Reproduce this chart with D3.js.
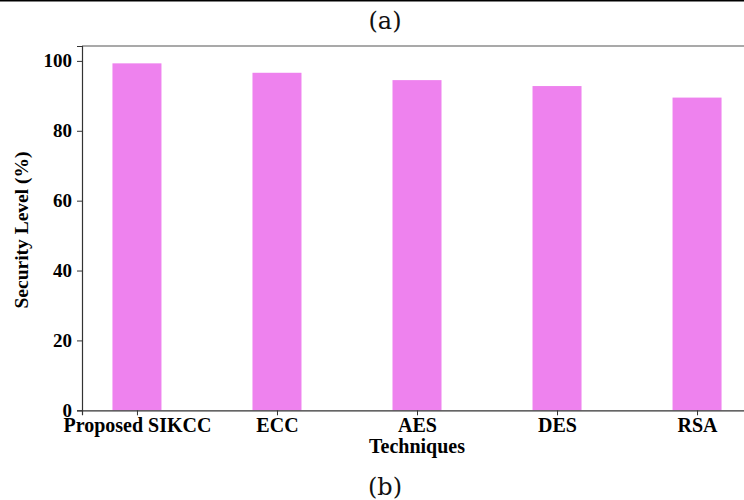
<!DOCTYPE html>
<html>
<head>
<meta charset="utf-8">
<script src="https://cdn.jsdelivr.net/npm/d3@7/dist/d3.min.js"></script>
<style>
  html, body { margin: 0; padding: 0; background: #fff; }
  svg { display: block; }
</style>
</head>
<body>
<svg id="chart" width="744" height="500"></svg>
<script>
// Security level of each encryption technique
const techniques = ["Proposed SIKCC", "ECC", "AES", "DES", "RSA"];
const securityLevel = [99.3, 96.6, 94.5, 92.8, 89.5];
const yTicks = [0, 20, 40, 60, 80, 100];

const svg = d3.select("#chart");
const W = 744, H = 500;
const barWidth = 0.35;
const n = techniques.length;
const margin = 0.05 * (n - 1 + barWidth);

const x = d3.scaleLinear()
  .domain([-barWidth / 2 - margin, n - 1 + barWidth / 2 + margin])
  .range([82, 752]);
const yMax = d3.max(securityLevel) * 1.05;
const y = d3.scaleLinear().domain([0, yMax]).range([410.3, 46]);

const serif = "'Liberation Serif', 'Times New Roman', serif";

// panel separator line at the top
svg.append("line")
  .attr("x1", 0).attr("x2", W).attr("y1", 0.75).attr("y2", 0.75)
  .attr("stroke", "#000").attr("stroke-width", 1.5);

// panel captions
svg.append("text")
  .attr("x", 385).attr("y", 29)
  .attr("text-anchor", "middle")
  .attr("font-family", "'DejaVu Serif', serif")
  .attr("font-size", 24)
  .attr("fill", "#111")
  .text("(a)");
svg.append("text")
  .attr("x", 385).attr("y", 495)
  .attr("text-anchor", "middle")
  .attr("font-family", "'DejaVu Serif', serif")
  .attr("font-size", 24)
  .attr("fill", "#111")
  .text("(b)");

// bars
svg.append("g")
  .selectAll("rect")
  .data(securityLevel)
  .join("rect")
  .attr("x", (d, i) => x(i - barWidth / 2))
  .attr("width", (d, i) => x(i + barWidth / 2) - x(i - barWidth / 2))
  .attr("y", d => y(d))
  .attr("height", d => y(0) - y(d))
  .attr("fill", "violet");

// frame (top spine; left and bottom drawn by the axes)
svg.append("line")
  .attr("x1", x.range()[0]).attr("x2", W)
  .attr("y1", y(yMax)).attr("y2", y(yMax))
  .attr("stroke", "#555").attr("stroke-width", 1.2);

// y axis
const yAxis = svg.append("g")
  .attr("transform", `translate(${x.range()[0]},0)`)
  .call(d3.axisLeft(y).tickValues(yTicks).tickSize(5).tickPadding(5).tickFormat(d3.format("d")));
yAxis.select(".domain").attr("stroke", "#333").attr("stroke-width", 1.2);
yAxis.selectAll(".tick line").attr("stroke", "#333");
yAxis.selectAll(".tick text")
  .attr("font-family", serif).attr("font-weight", "bold")
  .attr("font-size", 19).attr("fill", "#000");

// x axis
const xAxis = svg.append("g")
  .attr("transform", `translate(0,${y(0)})`)
  .call(d3.axisBottom(x).tickValues(d3.range(n)).tickSize(5).tickPadding(3)
    .tickFormat(i => techniques[i]));
xAxis.select(".domain").attr("stroke", "#333").attr("stroke-width", 1.2);
xAxis.selectAll(".tick line").attr("stroke", "#333");
xAxis.selectAll(".tick text")
  .attr("font-family", serif).attr("font-weight", "bold")
  .attr("font-size", 20).attr("fill", "#000");

// axis titles
svg.append("text")
  .attr("x", 417).attr("y", 453)
  .attr("text-anchor", "middle")
  .attr("font-family", serif).attr("font-weight", "bold")
  .attr("font-size", 20).attr("fill", "#000")
  .text("Techniques");
svg.append("text")
  .attr("transform", "translate(28,230) rotate(-90)")
  .attr("text-anchor", "middle")
  .attr("font-family", serif).attr("font-weight", "bold")
  .attr("font-size", 19.5).attr("fill", "#000")
  .text("Security Level (%)");
</script>
</body>
</html>
